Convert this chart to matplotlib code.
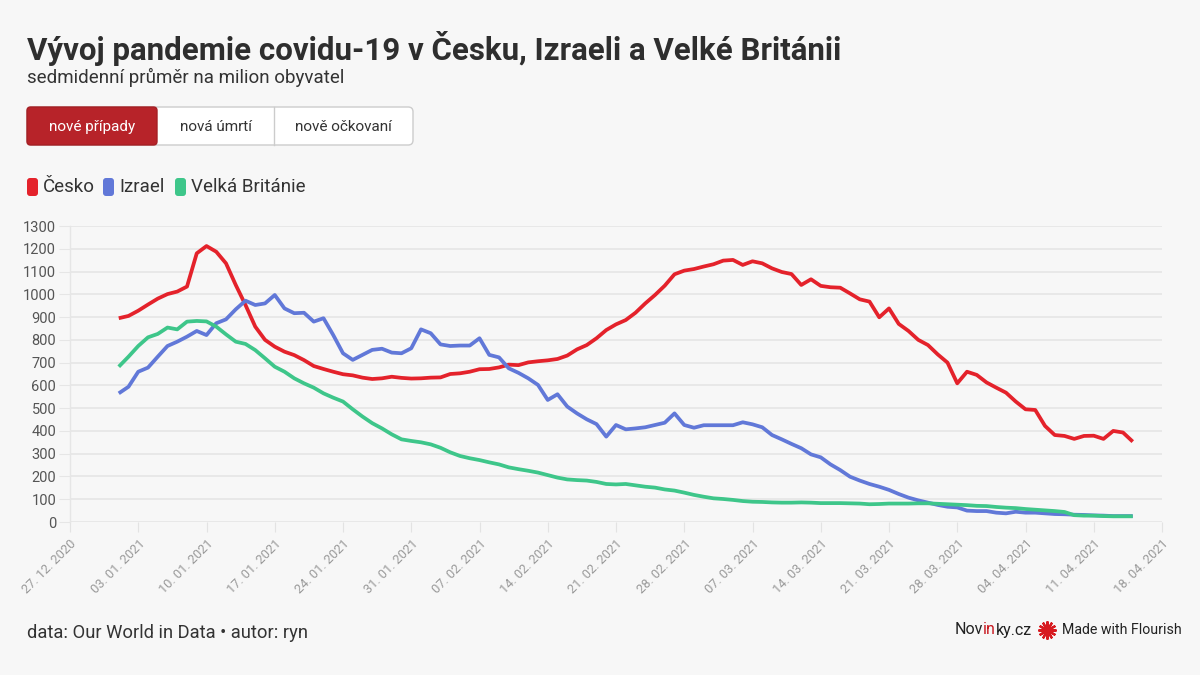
import matplotlib
matplotlib.use("Agg")
import matplotlib.pyplot as plt
from matplotlib.patches import FancyBboxPatch
from matplotlib.lines import Line2D
import pandas as pd

plt.rcParams['font.family'] = ['Roboto', 'DejaVu Sans']

# ---- data (7-day average per million) ----
start_date = "2021-01-01"
cesko = [895, 905, 928, 955, 981, 1001, 1012, 1034, 1180, 1212,
         1187, 1136, 1041, 953, 858, 800, 770, 748, 733, 711,
         685, 672, 660, 649, 644, 634, 628, 631, 638, 633,
         630, 631, 634, 635, 650, 653, 660, 671, 672, 679,
         691, 689, 701, 706, 710, 716, 731, 758, 777, 807,
         843, 868, 887, 919, 960, 997, 1038, 1088, 1104, 1111,
         1122, 1132, 1148, 1151, 1129, 1145, 1136, 1114, 1098, 1089,
         1041, 1066, 1037, 1031, 1029, 1004, 978, 968, 899, 938,
         870, 839, 800, 777, 736, 700, 609, 660, 646, 613,
         590, 568, 529, 495, 492, 422, 382, 378, 365, 378,
         379, 365, 400, 393, 353]
izrael = [565, 594, 660, 678, 726, 773, 792, 814, 839, 821,
          873, 890, 934, 972, 953, 960, 997, 938, 917, 919,
          880, 895, 821, 741, 712, 734, 756, 761, 744, 741,
          763, 846, 829, 780, 773, 775, 775, 807, 734, 723,
          675, 655, 631, 602, 536, 561, 507, 477, 451, 430,
          375, 426, 407, 411, 416, 426, 436, 477, 426, 414,
          425, 425, 425, 425, 438, 429, 416, 382, 363, 343,
          324, 297, 284, 253, 228, 199, 182, 167, 155, 141,
          123, 107, 95, 85, 75, 67, 64, 50, 48, 48,
          41, 38, 45, 41, 41, 38, 35, 34, 32, 31,
          29, 28, 26, 26, 26]
britanie = [682, 726, 773, 811, 826, 854, 846, 880, 883, 881,
            858, 824, 792, 782, 755, 719, 682, 660, 631, 609,
            590, 565, 546, 529, 495, 463, 434, 411, 385, 363,
            356, 350, 341, 326, 306, 290, 280, 272, 262, 253,
            240, 232, 225, 217, 206, 195, 187, 184, 182, 176,
            167, 165, 167, 161, 155, 151, 143, 138, 129, 119,
            111, 104, 101, 97, 92, 89, 88, 86, 85, 85,
            86, 85, 83, 83, 83, 82, 81, 78, 79, 81,
            81, 81, 82, 82, 80, 78, 76, 74, 71, 70,
            66, 63, 61, 57, 54, 51, 48, 44, 30, 28,
            28, 26, 25, 25, 25]
series_names = ["Česko", "Izrael", "Velká Británie"]
series_colors = ["#e4222b", "#6178d8", "#3ec68a"]
tick_start, tick_end = "2020-12-27", "2021-04-18"
y_ticks = list(range(0, 1301, 100))
buttons = ["nové případy", "nová úmrtí", "nově očkovaní"]

BG = "#f7f7f7"
W, H = 1200, 675
fig = plt.figure(figsize=(12, 6.75), dpi=100, facecolor=BG)
renderer = fig.canvas.get_renderer()

def fx(px):
    return px / W

def fy(py):
    return 1 - py / H

# ---- axes ----
ax_l, ax_r, ax_t, ax_b = 70, 1162, 226, 522
ax = fig.add_axes([fx(ax_l), fy(ax_b), fx(ax_r - ax_l), (ax_b - ax_t) / H])
ax.set_facecolor(BG)

dates = pd.date_range(start_date, periods=len(cesko), freq="D")
for vals, name, col in zip([cesko, izrael, britanie], series_names, series_colors):
    ax.plot(dates, vals, color=col, lw=2.7, solid_joinstyle="round",
            solid_capstyle="butt", label=name, zorder=3)

ax.set_ylim(0, 1300)
ax.set_yticks(y_ticks)
ax.set_xlim(pd.Timestamp(tick_start), pd.Timestamp(tick_end))
xt = pd.date_range(tick_start, tick_end, freq="7D")
ax.set_xticks(xt)
ax.set_xticklabels([d.strftime("%d. %m. %Y") for d in xt], rotation=45,
                   ha="right", rotation_mode="anchor", color="#9a9a9a", fontsize=9.2)
ax.tick_params(axis="x", length=7, color="#e3e3e3", pad=4)
ax.tick_params(axis="y", length=8, color="#e6e6e6", pad=2, labelsize=10.5,
               labelcolor="#555555")
ax.grid(axis="y", color="#e6e6e6", lw=1.2)
for s in ["top", "right", "bottom"]:
    ax.spines[s].set_visible(False)
ax.spines["left"].set_color("#e6e6e6")
ax.spines["left"].set_linewidth(1.0)

# ---- title & subtitle ----
fig.text(fx(27), fy(60), "Vývoj pandemie covidu-19 v Česku, Izraeli a Velké Británii",
         fontsize=22.5, fontweight="bold", color="#2e2e2e", va="baseline", ha="left")
fig.text(fx(27), fy(83), "sedmidenní průměr na milion obyvatel",
         fontsize=13.5, color="#333333", va="baseline", ha="left")

# ---- buttons ----
btn_edges = [27, 157, 274, 413]
by0, by1 = 107, 145
grp = FancyBboxPatch((fx(btn_edges[0]), fy(by1)), fx(btn_edges[-1] - btn_edges[0]),
                     (by1 - by0) / H, boxstyle="round,pad=0,rounding_size=0.004",
                     transform=fig.transFigure, facecolor="white",
                     edgecolor="#cccccc", lw=1.0, mutation_aspect=1.78)
fig.add_artist(grp)
red_btn = FancyBboxPatch((fx(btn_edges[0]), fy(by1)), fx(btn_edges[1] - btn_edges[0]),
                         (by1 - by0) / H, boxstyle="round,pad=0,rounding_size=0.003",
                         transform=fig.transFigure, facecolor="#b72329",
                         edgecolor="#a51f24", lw=1.0, mutation_aspect=1.78)
fig.add_artist(red_btn)
fig.add_artist(Line2D([fx(btn_edges[2])] * 2, [fy(by0), fy(by1)], color="#cccccc",
                      lw=1.0, transform=fig.transFigure))
for i, label in enumerate(buttons):
    cx = (btn_edges[i] + btn_edges[i + 1]) / 2
    fig.text(fx(cx), fy((by0 + by1) / 2 + 1), label, fontsize=11,
             color="white" if i == 0 else "#333333", ha="center", va="center")

# ---- legend ----
leg_y = 187
leg_x = [27, 103, 175]
for x0, name, col in zip(leg_x, series_names, series_colors):
    sq = FancyBboxPatch((fx(x0), fy(leg_y + 9)), fx(11), 18 / H,
                        boxstyle="round,pad=0,rounding_size=0.0025",
                        transform=fig.transFigure, facecolor=col, edgecolor="none",
                        mutation_aspect=1.78)
    fig.add_artist(sq)
    fig.text(fx(x0 + 16), fy(leg_y), name, fontsize=13.5, color="#333333",
             ha="left", va="center")

# ---- footer ----
fig.text(fx(27), fy(633), "data: Our World in Data • autor: ryn", fontsize=13.2,
         color="#333333", ha="left", va="center")

x_cur = 955
for part, col in [("Nov", "#222222"), ("in", "#c8171e"), ("ky.cz", "#222222")]:
    t = fig.text(fx(x_cur), fy(630), part, fontsize=11.5, color=col,
                 ha="left", va="center")
    x_cur += t.get_window_extent(renderer=renderer).width
fig.add_artist(Line2D([fx(1047)], [fy(630)], marker=(12, 2, 0), markersize=13,
                      color="#d7191f", mew=1.6, transform=fig.transFigure))
fig.add_artist(Line2D([fx(1047)], [fy(630)], marker="o", markersize=5,
                      color="#d7191f", transform=fig.transFigure))
fig.text(fx(1062), fy(630), "Made with Flourish", fontsize=10.2, color="#222222",
         ha="left", va="center")

fig.savefig("out.png", dpi=100, facecolor=BG)
